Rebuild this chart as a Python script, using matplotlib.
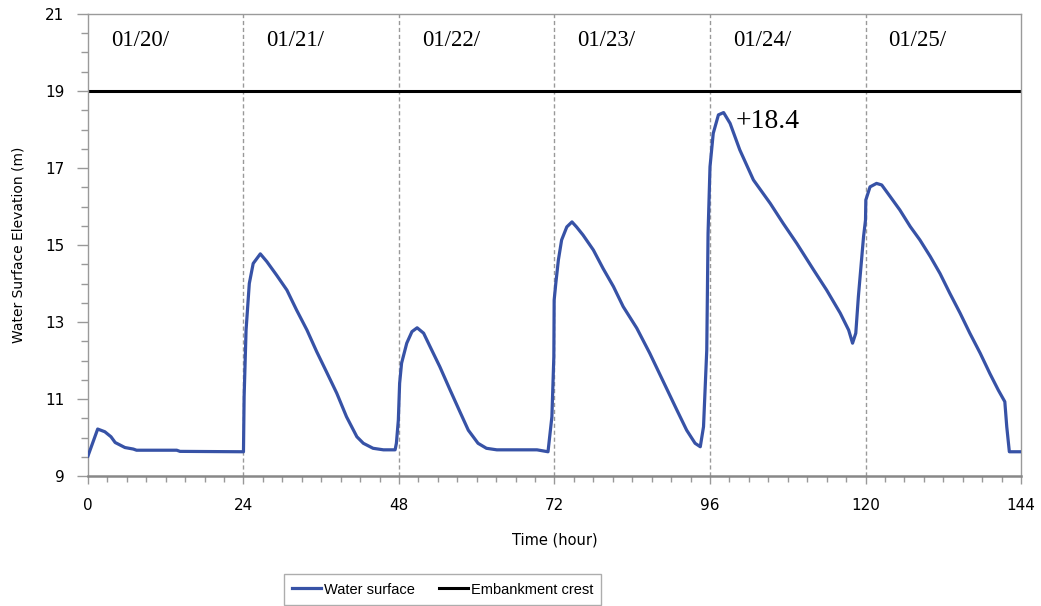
import matplotlib
matplotlib.use("Agg")
import matplotlib.pyplot as plt
from matplotlib.ticker import MultipleLocator

# hourly simulation
hours = [0.0, 1.5, 2.6, 3.55, 4.2, 5.7, 7.0, 7.5, 13.7, 14.2, 24.0,
         24.1, 24.4, 24.9, 25.5, 26.6, 27.6, 29.1, 30.7, 32.2, 33.8, 35.3,
         36.8, 38.4, 39.9, 41.5, 42.5, 44.0, 45.6, 47.4,
         47.6, 47.9, 48.1, 48.4, 49.2, 50.0, 50.8, 51.8, 52.8, 54.3, 55.9,
         57.4, 58.7, 60.2, 61.5, 63.1, 69.3, 71.0,
         71.6, 71.9, 71.95, 72.2, 72.6, 73.1, 73.9, 74.7, 75.4, 76.4, 78.0,
         79.5, 81.1, 82.6, 84.7, 86.7, 88.8, 90.9, 92.4, 93.7, 94.5, 95.0,
         95.5, 95.7, 96.0, 96.5, 97.3, 98.1, 99.1, 100.6, 102.7, 105.3,
         107.3, 109.4, 112.0, 114.0, 116.1, 117.4, 118.0, 118.5, 118.9,
         119.7, 120.0, 120.05, 120.7, 121.7, 122.5, 123.8, 125.3, 126.9,
         128.4, 130.0, 131.5, 133.0, 134.6, 136.1, 137.7, 139.2, 140.5,
         141.5, 141.8, 142.2, 144.0]
water = [9.52, 10.22, 10.15, 10.02, 9.87, 9.74, 9.70, 9.67, 9.67, 9.64, 9.63,
         11.06, 12.79, 14.0, 14.52, 14.77, 14.57, 14.22, 13.83, 13.31, 12.79,
         12.23, 11.71, 11.15, 10.54, 10.02, 9.85, 9.72, 9.68, 9.68,
         9.85, 10.45, 11.41, 11.93, 12.45, 12.75, 12.85, 12.71, 12.36, 11.84,
         11.23, 10.67, 10.19, 9.85, 9.72, 9.68, 9.68, 9.63,
         10.54, 12.1, 13.57, 14.0, 14.61, 15.13, 15.47, 15.60, 15.47, 15.26,
         14.87, 14.39, 13.92, 13.40, 12.84, 12.19, 11.45, 10.71, 10.19, 9.85,
         9.76, 10.28, 12.27, 15.30, 17.03, 17.90, 18.38, 18.44, 18.16, 17.47,
         16.69, 16.08, 15.56, 15.04, 14.35, 13.83, 13.23, 12.79, 12.45, 12.71,
         13.66, 15.22, 15.65, 16.17, 16.51, 16.60, 16.56, 16.26, 15.91, 15.48,
         15.13, 14.70, 14.26, 13.75, 13.23, 12.71, 12.19, 11.66, 11.23, 10.93,
         10.28, 9.63, 9.63]
crest = 19.0
day_starts = [0, 24, 48, 72, 96, 120]
day_labels = ["01/20/", "01/21/", "01/22/", "01/23/", "01/24/", "01/25/"]
y_ticks = [9, 11, 13, 15, 17, 19, 21]
peak_label = "+18.4"

fig = plt.figure(figsize=(10.41, 6.06), dpi=100)
ax = fig.add_axes([0.0845, 0.2145, 0.8963, 0.7624])

for d in day_starts[1:]:
    ax.axvline(d, color="#999999", linewidth=1, linestyle=(0, (3, 2)), zorder=1)

ax.plot(hours, water, color="#3752a6", linewidth=2.3, label="Water surface", zorder=3)
ax.axhline(crest, color="black", linewidth=2.2, label="Embankment crest", zorder=2)

for d, lab in zip(day_starts, day_labels):
    ax.text(d + 3.5, 20.3, lab, family="Liberation Serif", fontsize=16.5,
            ha="left", va="center")
ax.text(100.0, 18.2, peak_label, family="Liberation Serif", fontsize=20,
        ha="left", va="center")

ax.set_xlim(0, 144)
ax.set_ylim(9, 21)
ax.xaxis.set_major_locator(MultipleLocator(24))
ax.xaxis.set_minor_locator(MultipleLocator(3))
ax.set_yticks(y_ticks)
ax.yaxis.set_minor_locator(MultipleLocator(0.5))

for s in ax.spines.values():
    s.set_color("#9a9a9a")
    s.set_linewidth(1)
ax.spines["bottom"].set_color("#888888")
ax.spines["bottom"].set_linewidth(1.8)

ax.tick_params(axis="y", which="major", length=8, width=1, color="#999999",
               labelsize=11, pad=9)
ax.tick_params(axis="y", which="minor", length=5, width=1, color="#999999")
ax.tick_params(axis="x", which="major", length=6, width=1, color="#999999",
               labelsize=11, pad=10)
ax.tick_params(axis="x", which="minor", length=4, width=1, color="#999999")

ax.set_xlabel("Time (hour)", fontsize=10.5, labelpad=14)
ax.set_ylabel("Water Surface Elevation (m)", fontsize=10, labelpad=14)

leg = fig.legend(loc="upper left", bbox_to_anchor=(0.273, 0.052), ncol=2,
                 prop={"family": "Liberation Sans", "size": 10.5},
                 frameon=True, fancybox=False, handlelength=2.0,
                 handletextpad=0.2, columnspacing=1.6, borderpad=0.55,
                 borderaxespad=0)
leg.get_frame().set_edgecolor("#999999")
leg.get_frame().set_linewidth(1)

fig.savefig("out.png", dpi=100)
